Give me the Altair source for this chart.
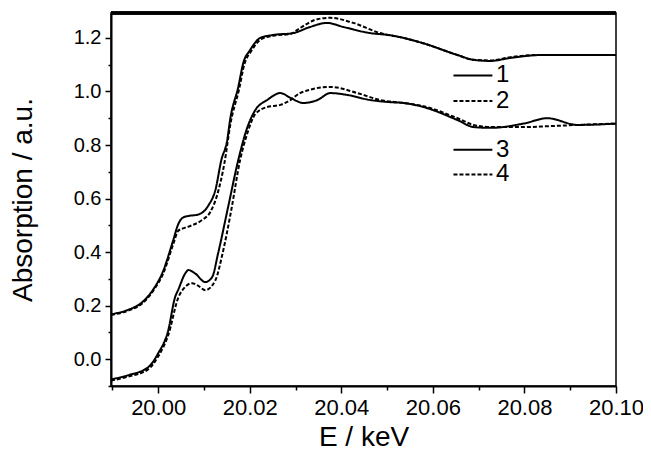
import altair as alt
import pandas as pd

# ---- data ----
E1 = [19.9897, 19.9935, 19.9963, 19.9989, 20.0011, 20.0033, 20.0044, 20.0055, 20.0066, 20.0087,
      20.0110, 20.0125, 20.0138, 20.0151, 20.0157, 20.0175, 20.0186, 20.0201, 20.0223, 20.0251,
      20.0295, 20.0332, 20.0369, 20.0404, 20.0463, 20.0507, 20.0536, 20.0579, 20.0654, 20.0689,
      20.0726, 20.0769, 20.0835, 20.1000]
A1 = [0.168, 0.185, 0.210, 0.260, 0.330, 0.445, 0.505, 0.530, 0.535, 0.540,
      0.575, 0.632, 0.744, 0.820, 0.893, 1.017, 1.107, 1.155, 1.200, 1.211,
      1.218, 1.241, 1.256, 1.241, 1.218, 1.210, 1.200, 1.180, 1.136, 1.118,
      1.114, 1.125, 1.136, 1.136]

E2 = [19.9897, 19.9935, 19.9963, 19.9989, 20.0011, 20.0033, 20.0044, 20.0066, 20.0096, 20.0114,
      20.0130, 20.0145, 20.0158, 20.0177, 20.0188, 20.0203, 20.0225, 20.0251, 20.0289, 20.0310,
      20.0348, 20.0376, 20.0426, 20.0485, 20.0536, 20.0579, 20.0654, 20.0689, 20.0726, 20.0769,
      20.0835, 20.1000]
A2 = [0.165, 0.182, 0.205, 0.255, 0.320, 0.430, 0.480, 0.495, 0.520, 0.550,
      0.620, 0.735, 0.880, 1.010, 1.100, 1.150, 1.195, 1.208, 1.215, 1.237,
      1.270, 1.275, 1.256, 1.218, 1.200, 1.180, 1.136, 1.118, 1.116, 1.128,
      1.136, 1.136]

E3 = [19.9897, 19.9934, 19.9978, 20.0000, 20.0022, 20.0037, 20.0044, 20.0059, 20.0066, 20.0081,
      20.0103, 20.0118, 20.0131, 20.0153, 20.0175, 20.0195, 20.0212, 20.0238, 20.0267, 20.0289,
      20.0317, 20.0348, 20.0376, 20.0413, 20.0463, 20.0507, 20.0536, 20.0579, 20.0654, 20.0689,
      20.0726, 20.0798, 20.0850, 20.0916, 20.1000]
A3 = [-0.075, -0.060, -0.030, 0.022, 0.108, 0.232, 0.260, 0.320, 0.333, 0.320,
      0.288, 0.307, 0.396, 0.570, 0.744, 0.867, 0.930, 0.968, 0.994, 0.976,
      0.957, 0.968, 0.994, 0.987, 0.968, 0.960, 0.957, 0.942, 0.893, 0.867,
      0.864, 0.880, 0.900, 0.875, 0.880]

E4 = [19.9897, 19.9934, 19.9978, 20.0000, 20.0022, 20.0044, 20.0059, 20.0074, 20.0087, 20.0103,
      20.0125, 20.0140, 20.0160, 20.0179, 20.0195, 20.0212, 20.0238, 20.0267, 20.0289, 20.0310,
      20.0376, 20.0435, 20.0485, 20.0536, 20.0579, 20.0654, 20.0689, 20.0726, 20.0798, 20.0850,
      20.0916, 20.1000]
A4 = [-0.080, -0.065, -0.038, 0.010, 0.090, 0.230, 0.270, 0.284, 0.275, 0.258,
      0.295, 0.390, 0.560, 0.744, 0.845, 0.915, 0.942, 0.950, 0.968, 0.994,
      1.017, 0.994, 0.968, 0.957, 0.945, 0.900, 0.875, 0.867, 0.867, 0.870,
      0.875, 0.880]

series_names = ["1", "2", "3", "4"]

# in-plot legend (data coordinates)
legend_x0 = [20.0645, 20.0645, 20.0645, 20.0645]
legend_x1 = [20.0730, 20.0730, 20.0730, 20.0730]
legend_tx = [20.0738, 20.0738, 20.0738, 20.0738]
legend_y = [1.060, 0.964, 0.782, 0.690]

x_major = [20.00, 20.02, 20.04, 20.06, 20.08, 20.10]
x_minor = [19.99, 20.01, 20.03, 20.05, 20.07, 20.09]
y_major = [0.0, 0.2, 0.4, 0.6, 0.8, 1.0, 1.2]
y_minor = [-0.1, 0.1, 0.3, 0.5, 0.7, 0.9, 1.1]

# ---- build tables ----
rows = []
for name, E, A in zip(series_names, [E1, E2, E3, E4], [A1, A2, A3, A4]):
    for e, a in zip(E, A):
        rows.append({"E": e, "A": a, "series": name})
df = pd.DataFrame(rows)

leg = pd.DataFrame({"series": series_names, "x0": legend_x0, "x1": legend_x1,
                    "tx": legend_tx, "ly": legend_y})

FONT = "Liberation Sans"
W, H = 505, 373

xscale = alt.Scale(domain=[19.9897, 20.10], nice=False, zero=False)
yscale = alt.Scale(domain=[-0.10, 1.293], nice=False, zero=False)

dash_scale = alt.Scale(domain=series_names, range=[[1, 0], [4, 2], [1, 0], [4, 2]])

xaxis = alt.Axis(
    title="E / keV", values=x_major, grid=False, format=".2f",
    tickSize=7, tickWidth=1.5, tickColor="black", domainColor="black", domainWidth=2,
    labelFont=FONT, labelFontSize=22, labelColor="black", labelPadding=4,
    labelFlush=False, labelOverlap=False,
    titleFont=FONT, titleFontSize=28, titleFontWeight="normal", titleColor="black",
    titlePadding=5,
)
yaxis = alt.Axis(
    title="Absorption / a.u.", values=y_major, grid=False, format=".1f",
    tickSize=6, tickWidth=1.5, tickColor="black", domainColor="black", domainWidth=2,
    labelFont=FONT, labelFontSize=20, labelColor="black", labelPadding=4,
    labelFlush=False, labelOverlap=False,
    titleFont=FONT, titleFontSize=28, titleFontWeight="normal", titleColor="black",
    titlePadding=36,
)

lines = alt.Chart(df).mark_line(color="black", strokeWidth=2, interpolate="monotone").encode(
    x=alt.X("E:Q", scale=xscale, axis=xaxis),
    y=alt.Y("A:Q", scale=yscale, axis=yaxis),
    detail="series:N",
    strokeDash=alt.StrokeDash("series:N", scale=dash_scale, legend=None),
)

# minor ticks via a second (unlabelled) pair of axes on the same scales
minor_axes = alt.Chart(leg).mark_point(opacity=0).encode(
    x=alt.X("tx:Q", scale=xscale, axis=alt.Axis(
        orient="bottom", values=x_minor, labels=False, title=None, grid=False,
        tickSize=4, tickWidth=1.5, tickColor="black", domain=False)),
    y=alt.Y("ly:Q", scale=yscale, axis=alt.Axis(
        orient="left", values=y_minor, labels=False, title=None, grid=False,
        tickSize=3, tickWidth=1.5, tickColor="black", domain=False)),
)

leg_rules = alt.Chart(leg).mark_rule(color="black", strokeWidth=2).encode(
    x="x0:Q", x2="x1:Q", y="ly:Q",
    strokeDash=alt.StrokeDash("series:N", scale=dash_scale, legend=None),
)
leg_text = alt.Chart(leg).mark_text(
    align="left", baseline="middle", font=FONT, fontSize=24, color="black"
).encode(x="tx:Q", y="ly:Q", text="series:N")

top_border = alt.Chart(leg).mark_rule(color="black", strokeWidth=3).encode(
    x=alt.value(0), x2=alt.value(W), y=alt.value(0)
)

main = alt.layer(lines, leg_rules, leg_text, top_border)

chart = alt.layer(main, minor_axes).resolve_axis(x="independent", y="independent").properties(
    width=W, height=H,
    autosize=alt.AutoSizeParams(type="none"),
    padding={"left": 103, "top": 5, "right": 27, "bottom": 66},
    background="white",
).configure_view(stroke="black", strokeWidth=1.5)

chart.save("out.html", embed_options={"renderer": "svg", "actions": False})
